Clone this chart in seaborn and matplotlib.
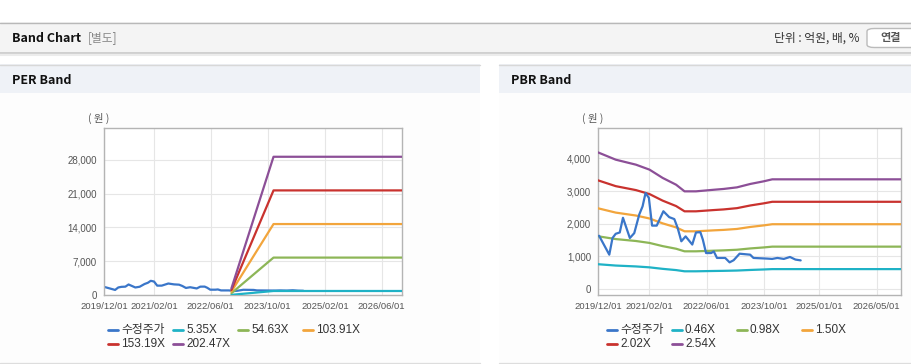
import numpy as np
import pandas as pd
import matplotlib
matplotlib.use('Agg')
import matplotlib.pyplot as plt
from matplotlib.patches import Rectangle, FancyBboxPatch
from matplotlib.lines import Line2D
import seaborn as sns

# -------------------------------------------------------
# Data
# -------------------------------------------------------
price_dates = ['2019-12-10', '2020-03-05', '2020-04-01', '2020-04-28', '2020-06-01',
               '2020-06-28', '2020-08-25', '2020-10-01', '2020-11-12', '2020-12-10',
               '2021-01-04', '2021-02-01', '2021-02-28', '2021-04-08', '2021-06-03',
               '2021-07-22', '2021-09-03', '2021-10-01', '2021-11-01', '2021-12-07',
               '2022-02-01', '2022-03-04', '2022-04-10', '2022-05-01', '2022-05-28',
               '2022-07-10', '2022-08-01', '2022-08-28', '2022-11-05', '2022-12-12',
               '2023-01-15', '2023-03-06', '2023-06-03', '2023-07-01', '2023-10-25',
               '2023-12-05', '2024-01-18', '2024-03-12', '2024-05-03', '2024-06-18',
               '2024-08-01']
price = [1630, 1050, 1560, 1690, 1730, 2180, 1560, 1710, 2280, 2530,
         2940, 2790, 1940, 1940, 2380, 2200, 2140, 1870, 1460, 1610,
         1360, 1730, 1740, 1510, 1100, 1100, 1150, 950, 950, 815,
         880, 1080, 1050, 950, 930, 920, 950, 920, 980, 900, 875]

# PER band
per_dates = ['2022-11-25', '2023-11-20', '2026-11-23']
per_labels = ['5.35X', '54.63X', '103.91X', '153.19X', '202.47X']
per_535 = [36, 830, 830]
per_5463 = [371, 7750, 7750]
per_10391 = [707, 14700, 14700]
per_15319 = [1042, 21670, 21670]
per_20247 = [1377, 28640, 28640]

# PBR band
pbr_dates = ['2019-12-01', '2020-04-28', '2020-10-15', '2021-02-06', '2021-05-28',
             '2021-09-18', '2021-11-28', '2022-03-04', '2022-08-06', '2022-10-22',
             '2023-02-12', '2023-06-04', '2023-09-25', '2023-12-06', '2026-11-23']
pbr_labels = ['0.46X', '0.98X', '1.50X', '2.02X', '2.54X']
pbr_046 = [758, 717, 690, 662, 616, 578, 541, 541, 551, 555, 564, 582, 597, 608, 608]
pbr_098 = [1614, 1528, 1469, 1410, 1312, 1232, 1153, 1153, 1173, 1182, 1201, 1241, 1272, 1296, 1296]
pbr_150 = [2471, 2339, 2249, 2159, 2009, 1886, 1766, 1766, 1796, 1809, 1838, 1899, 1947, 1983, 1983]
pbr_202 = [3327, 3149, 3028, 2907, 2705, 2539, 2378, 2378, 2418, 2436, 2475, 2557, 2622, 2670, 2670]
pbr_254 = [4183, 3960, 3807, 3655, 3401, 3193, 2990, 2990, 3040, 3063, 3112, 3216, 3297, 3358, 3358]

per_xticks = ['2019-12-01', '2021-02-01', '2022-06-01', '2023-10-01', '2025-02-01', '2026-06-01']
pbr_xticks = ['2019-12-01', '2021-02-01', '2022-06-01', '2023-10-01', '2025-01-01', '2026-05-01']
per_yticks = [0, 7000, 14000, 21000, 28000]
pbr_yticks = [0, 1000, 2000, 3000, 4000]

colors = ['#3a76c9', '#1fb2c6', '#8db657', '#f2a53c', '#c9322e', '#8c4f97']

# -------------------------------------------------------
# Figure
# -------------------------------------------------------
sns.set_style('white')
plt.rcParams['font.family'] = ['Liberation Sans', 'Noto Sans CJK KR', 'DejaVu Sans']
KR = ['Noto Sans CJK KR', 'DejaVu Sans']

W, H = 912, 364
fig = plt.figure(figsize=(W / 100, H / 100), dpi=100)
fig.patch.set_facecolor('white')


def rect(x0, y0, x1, y1, fc, ec='none', lw=0, z=0):
    fig.add_artist(Rectangle((x0 / W, 1 - y1 / H), (x1 - x0) / W, (y1 - y0) / H,
                             transform=fig.transFigure, facecolor=fc,
                             edgecolor=ec, linewidth=lw, zorder=z))


def hline(x0, x1, y, color, lw=1.0):
    fig.add_artist(Line2D([x0 / W, x1 / W], [1 - y / H, 1 - y / H],
                          transform=fig.transFigure, color=color, linewidth=lw))


def ftext(x, y, s, **kw):
    fig.text(x / W, 1 - y / H, s, **kw)


# header band
rect(0, 22, W, 53, '#f4f4f4')
hline(0, W, 22.5, '#b8b8b8', 1.0)
hline(0, W, 53, '#c9c9c9', 1.2)
hline(0, W, 54.5, '#ececec', 1.5)
ftext(12, 38, 'Band Chart', fontsize=9, fontweight='bold', color='#111111',
      va='center', family=KR)
ftext(88, 38, '[별도]', fontsize=8.5, color='#888888', va='center', family=KR)
ftext(860, 38, '단위 : 억원, 배, %', fontsize=8.5, color='#333333', va='center', ha='right',
      family=KR)
fig.add_artist(FancyBboxPatch((867 / W, 1 - 47.5 / H), 60 / W, 19 / H,
                              boxstyle='round,pad=0,rounding_size=0.008',
                              transform=fig.transFigure, facecolor='white',
                              edgecolor='#bbbbbb', linewidth=1.0))
ftext(891, 38, '연결', fontsize=8, fontweight='bold', color='#555555', va='center', ha='center',
      family=KR)

# panels
for x0, x1, title in [(0, 480, 'PER Band'), (499, W, 'PBR Band')]:
    rect(x0, 64, x1, 93, '#eff2f7')
    hline(x0, x1, 64.5, '#d8d8d8', 1.0)
    hline(x0, x1, 362.5, '#dddddd', 1.0)
    rect(x0, 93, x1, 362, '#fdfdfd')
    ftext(x0 + 12, 80, title, fontsize=9, fontweight='bold', color='#111111', va='center',
          family=KR)


def draw_band(ax_rect, band_dates, bands, xticks, yticks, ylim, price_z):
    ax = fig.add_axes(ax_rect)
    ax.set_facecolor('white')
    df = pd.DataFrame({'date': pd.to_datetime(price_dates), 'v': price})
    sns.lineplot(data=df, x='date', y='v', ax=ax, color=colors[0], linewidth=1.6, zorder=price_z)
    bd = pd.to_datetime(band_dates)
    for i, vals in enumerate(bands):
        sns.lineplot(x=bd, y=vals, ax=ax, color=colors[i + 1], linewidth=1.6, zorder=3)
    ax.set_xlim(pd.Timestamp('2019-12-01'), pd.Timestamp('2026-11-23'))
    ax.set_ylim(*ylim)
    ax.set_xticks(pd.to_datetime(xticks))
    ax.set_xticklabels([t.replace('-', '/') for t in xticks], fontsize=6.8)
    ax.set_yticks(yticks)
    ax.set_yticklabels([f'{v:,}' for v in yticks], fontsize=7)
    ax.set_xlabel('')
    ax.set_ylabel('')
    ax.grid(True, color='#e6e6e6', linewidth=0.8)
    ax.set_axisbelow(True)
    ax.tick_params(length=0, colors='#555555', pad=5)
    for s in ax.spines.values():
        s.set_color('#b4b4b4')
        s.set_linewidth(1.0)
    return ax


ax1 = draw_band([104 / W, 1 - 295 / H, 298 / W, 167 / H], per_dates,
                [per_535, per_5463, per_10391, per_15319, per_20247],
                per_xticks, per_yticks, (0, 34600), price_z=2)
ax2 = draw_band([598 / W, 1 - 295 / H, 303 / W, 167 / H], pbr_dates,
                [pbr_046, pbr_098, pbr_150, pbr_202, pbr_254],
                pbr_xticks, pbr_yticks, (-185, 4930), price_z=4)

ftext(99, 118, '( 원 )', fontsize=7.5, color='#555555', va='center', ha='center', family=KR)
ftext(593, 118, '( 원 )', fontsize=7.5, color='#555555', va='center', ha='center', family=KR)


# legends
def legend(x_start, names):
    for k, name in enumerate(names):
        row, col = divmod(k, 4)
        x = x_start + col * 65
        y = 330 + row * 14
        fig.add_artist(Line2D([x / W, (x + 10) / W], [1 - y / H, 1 - y / H],
                              transform=fig.transFigure, color=colors[k], linewidth=2))
        ftext(x + 13, y, name, fontsize=8.5, color='#333333', va='center',
              family=['Liberation Sans', 'Noto Sans CJK KR', 'DejaVu Sans'])


legend(108, ['수정주가'] + per_labels)
legend(607, ['수정주가'] + pbr_labels)

fig.savefig('out.png', dpi=100)
